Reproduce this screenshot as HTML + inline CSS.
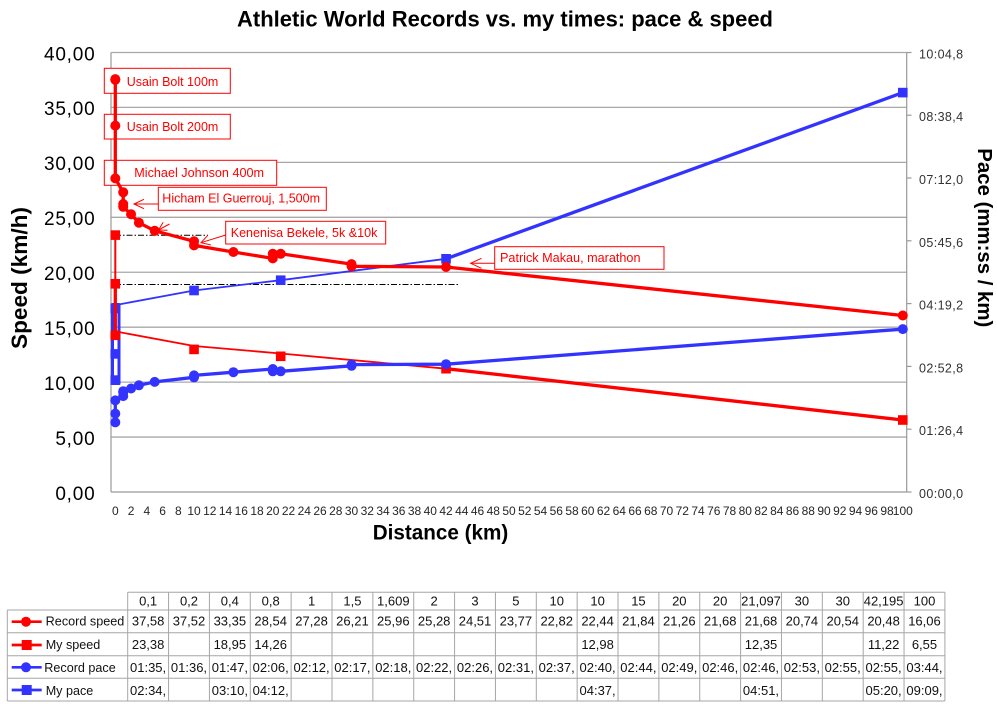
<!DOCTYPE html>
<html><head><meta charset="utf-8"><style>
html,body{margin:0;padding:0;background:#fff;}
svg{display:block;font-family:"Liberation Sans",Arial,sans-serif;}
</style></head><body>
<svg width="997" height="704" viewBox="0 0 997 704" xmlns="http://www.w3.org/2000/svg">
<rect width="997" height="704" fill="#fff"/>
<!-- title -->
<text x="237" y="26.5" font-size="22.5" font-weight="bold" textLength="536" lengthAdjust="spacingAndGlyphs" fill="#000">Athletic World Records vs. my times: pace &amp; speed</text>

<!-- gridlines -->
<g stroke="#a8a8a8" stroke-width="1.3">
<line x1="111" y1="52.5" x2="906.7" y2="52.5"/>
<line x1="111" y1="107.4" x2="906.7" y2="107.4"/>
<line x1="111" y1="162.4" x2="906.7" y2="162.4"/>
<line x1="111" y1="217.3" x2="906.7" y2="217.3"/>
<line x1="111" y1="272.25" x2="906.7" y2="272.25"/>
<line x1="111" y1="327.2" x2="906.7" y2="327.2"/>
<line x1="111" y1="382.1" x2="906.7" y2="382.1"/>
<line x1="111" y1="437.06" x2="906.7" y2="437.06"/>
</g>
<g stroke="#999" stroke-width="1.2">
<line x1="111" y1="492" x2="906.7" y2="492"/>
<line x1="111" y1="52.5" x2="111" y2="492"/>
<line x1="906.7" y1="52.5" x2="906.7" y2="492"/>
<line x1="906.7" y1="52.5" x2="911.5" y2="52.5"/>
<line x1="906.7" y1="115.2" x2="911.5" y2="115.2"/>
<line x1="906.7" y1="178" x2="911.5" y2="178"/>
<line x1="906.7" y1="240.8" x2="911.5" y2="240.8"/>
<line x1="906.7" y1="303.6" x2="911.5" y2="303.6"/>
<line x1="906.7" y1="366.4" x2="911.5" y2="366.4"/>
<line x1="906.7" y1="429.2" x2="911.5" y2="429.2"/>
<line x1="906.7" y1="492" x2="911.5" y2="492"/>
</g>

<!-- left axis labels -->
<g font-size="19" fill="#000" text-anchor="end" letter-spacing="0.8">
<text x="95.5" y="60.3">40,00</text>
<text x="95.5" y="115.2">35,00</text>
<text x="95.5" y="170.2">30,00</text>
<text x="95.5" y="225.1">25,00</text>
<text x="95.5" y="280">20,00</text>
<text x="95.5" y="335">15,00</text>
<text x="95.5" y="389.9">10,00</text>
<text x="95.5" y="444.8">5,00</text>
<text x="95.5" y="499.8">0,00</text>
</g>
<!-- right axis labels -->
<g font-size="12.5" fill="#333" letter-spacing="0.4">
<text x="919" y="58.5">10:04,8</text>
<text x="919" y="121.2">08:38,4</text>
<text x="919" y="184">07:12,0</text>
<text x="919" y="246.8">05:45,6</text>
<text x="919" y="309.6">04:19,2</text>
<text x="919" y="372.4">02:52,8</text>
<text x="919" y="435.2">01:26,4</text>
<text x="919" y="498">00:00,0</text>
</g>

<!-- x tick labels -->
<g font-size="12" fill="#262626" text-anchor="middle">
<text x="115.3" y="515">0</text><text x="131.05" y="515">2</text><text x="146.8" y="515">4</text><text x="162.55" y="515">6</text><text x="178.3" y="515">8</text>
<text x="194.05" y="515">10</text><text x="209.8" y="515">12</text><text x="225.55" y="515">14</text><text x="241.3" y="515">16</text><text x="257.05" y="515">18</text>
<text x="272.8" y="515">20</text><text x="288.55" y="515">22</text><text x="304.3" y="515">24</text><text x="320.05" y="515">26</text><text x="335.8" y="515">28</text>
<text x="351.55" y="515">30</text><text x="367.3" y="515">32</text><text x="383.05" y="515">34</text><text x="398.8" y="515">36</text><text x="414.55" y="515">38</text>
<text x="430.3" y="515">40</text><text x="446.05" y="515">42</text><text x="461.8" y="515">44</text><text x="477.55" y="515">46</text><text x="493.3" y="515">48</text>
<text x="509.05" y="515">50</text><text x="524.8" y="515">52</text><text x="540.55" y="515">54</text><text x="556.3" y="515">56</text><text x="572.05" y="515">58</text>
<text x="587.8" y="515">60</text><text x="603.55" y="515">62</text><text x="619.3" y="515">64</text><text x="635.05" y="515">66</text><text x="650.8" y="515">68</text>
<text x="666.55" y="515">70</text><text x="682.3" y="515">72</text><text x="698.05" y="515">74</text><text x="713.8" y="515">76</text><text x="729.55" y="515">78</text>
<text x="745.3" y="515">80</text><text x="761.05" y="515">82</text><text x="776.8" y="515">84</text><text x="792.55" y="515">86</text><text x="808.3" y="515">88</text>
<text x="824.05" y="515">90</text><text x="839.8" y="515">92</text><text x="855.55" y="515">94</text><text x="871.3" y="515">96</text><text x="887.05" y="515">98</text>
<text x="902.8" y="515">100</text>
</g>

<!-- axis titles -->
<text transform="translate(27,278) rotate(-90)" text-anchor="middle" font-size="22" font-weight="bold" fill="#000" textLength="142" lengthAdjust="spacingAndGlyphs">Speed (km/h)</text>
<text transform="translate(978,237.8) rotate(90)" text-anchor="middle" font-size="20.5" font-weight="bold" fill="#000" textLength="179" lengthAdjust="spacingAndGlyphs">Pace (mm:ss / km)</text>
<text x="372.7" y="539.3" font-size="21" font-weight="bold" fill="#000" textLength="135.6" lengthAdjust="spacingAndGlyphs">Distance (km)</text>

<!-- annotation boxes (under series) -->
<g fill="#fff" stroke="#ff0000" stroke-width="1">
<rect x="104.3" y="68.3" width="126" height="25"/>
<rect x="104.3" y="114.3" width="126" height="24.7"/>
<rect x="104.3" y="160.3" width="172.4" height="25"/>
<rect x="158.3" y="187.3" width="168" height="23"/>
<rect x="225.7" y="221.3" width="160" height="22.7"/>
<rect x="494.7" y="246.7" width="169.3" height="22.6"/>
</g>

<!-- dash-dot lines -->
<g stroke="#000" stroke-width="1" stroke-dasharray="6 2 1.5 2" fill="none">
<line x1="115" y1="235.3" x2="208" y2="235.3"/>
<line x1="115" y1="284.5" x2="458.3" y2="284.5"/>
</g>

<!-- My pace (blue squares) -->
<g stroke="#3333ff" fill="none" stroke-linejoin="round">
<polyline stroke-width="1.8" points="116,305 194.05,290.5 280.7,280.2 446.05,258.8"/>
<line stroke-width="3.3" x1="446.05" y1="258.8" x2="902.8" y2="92.6"/>
<rect stroke-width="3" x="112.5" y="304.5" width="6.5" height="79"/>
</g>
<g fill="#3333ff">
<rect x="110.5" y="375.3" width="9.6" height="9.6"/>
<rect x="110.5" y="349.1" width="9.6" height="9.6"/>
<rect x="110.5" y="303.7" width="9.6" height="9.6"/>
<rect x="189.25" y="285.7" width="9.6" height="9.6"/>
<rect x="275.9" y="275.4" width="9.6" height="9.6"/>
<rect x="441.25" y="254" width="9.6" height="9.6"/>
<rect x="898" y="87.8" width="9.6" height="9.6"/>
</g>

<!-- My speed (red squares) -->
<g stroke="#ff0000" fill="none" stroke-linejoin="round">
<line stroke-width="2" x1="115.3" y1="235.1" x2="115.3" y2="283.8"/>
<line stroke-width="3.3" x1="115.3" y1="283.8" x2="115.3" y2="337"/>
<polyline stroke-width="1.8" points="116,331.5 194.05,346 280.7,353.5 446.05,368.7"/>
<line stroke-width="3.3" x1="446.05" y1="368.7" x2="902.8" y2="420"/>
</g>
<g fill="#ff0000">
<rect x="110.5" y="230.3" width="9.6" height="9.6"/>
<rect x="110.5" y="279" width="9.6" height="9.6"/>
<rect x="110.5" y="330.5" width="9.6" height="9.6"/>
<rect x="189.25" y="344.6" width="9.6" height="9.6"/>
<rect x="275.9" y="351.5" width="9.6" height="9.6"/>
<rect x="441.25" y="363.9" width="9.6" height="9.6"/>
<rect x="898" y="415.2" width="9.6" height="9.6"/>
</g>

<!-- Record pace (blue circles) -->
<polyline fill="none" stroke="#3333ff" stroke-width="3.3" stroke-linejoin="round" points="115.3,422.4 115.3,422.3 115.3,413.6 115.3,400.4 123.2,396.1 123.2,392.2 123.2,391.2 131.05,388.5 138.9,385.3 154.7,381.9 194.05,377.3 194.05,375.4 233.4,372.2 272.8,369 272.8,371.3 280.7,371.3 351.55,365.8 351.55,364.6 446.05,364.2 902.8,329.1"/>
<g fill="#3333ff">
<circle cx="115.3" cy="422.4" r="5"/><circle cx="115.3" cy="413.6" r="5"/><circle cx="115.3" cy="400.4" r="5"/>
<circle cx="123.2" cy="396.1" r="5"/><circle cx="123.2" cy="392.2" r="5"/><circle cx="123.2" cy="391.2" r="5"/>
<circle cx="131.05" cy="388.5" r="5"/><circle cx="138.9" cy="385.3" r="5"/><circle cx="154.7" cy="381.9" r="5"/>
<circle cx="194.05" cy="377.3" r="5"/><circle cx="194.05" cy="375.4" r="5"/><circle cx="233.4" cy="372.2" r="5"/>
<circle cx="272.8" cy="369" r="5"/><circle cx="272.8" cy="371.3" r="5"/><circle cx="280.7" cy="371.3" r="5"/>
<circle cx="351.55" cy="365.8" r="5"/><circle cx="351.55" cy="364.6" r="5"/><circle cx="446.05" cy="364.2" r="5"/>
<circle cx="902.8" cy="329.1" r="5"/>
</g>

<!-- Record speed (red circles) -->
<polyline fill="none" stroke="#ff0000" stroke-width="3.3" stroke-linejoin="round" points="115.3,79.1 115.3,79.8 115.3,125.6 115.3,178.4 123.2,192.3 123.2,204 123.2,206.8 131.05,214.2 138.9,222.7 154.7,230.8 194.05,241.3 194.05,245.4 233.4,252 272.8,258.4 272.8,253.8 280.7,253.8 351.55,264.1 351.55,266.3 446.05,267 902.8,315.5"/>
<g fill="#ff0000">
<circle cx="115.3" cy="79.1" r="5"/><circle cx="115.3" cy="79.8" r="5"/><circle cx="115.3" cy="125.6" r="5"/>
<circle cx="115.3" cy="178.4" r="5"/><circle cx="123.2" cy="192.3" r="5"/><circle cx="123.2" cy="204" r="5"/>
<circle cx="123.2" cy="206.8" r="5"/><circle cx="131.05" cy="214.2" r="5"/><circle cx="138.9" cy="222.7" r="5"/>
<circle cx="154.7" cy="230.8" r="5"/><circle cx="194.05" cy="241.3" r="5"/><circle cx="194.05" cy="245.4" r="5"/>
<circle cx="233.4" cy="252" r="5"/><circle cx="272.8" cy="258.4" r="5"/><circle cx="272.8" cy="253.8" r="5"/>
<circle cx="280.7" cy="253.8" r="5"/><circle cx="351.55" cy="264.1" r="5"/><circle cx="351.55" cy="266.3" r="5"/>
<circle cx="446.05" cy="267" r="5"/><circle cx="902.8" cy="315.5" r="5"/>
</g>

<!-- annotation text & arrows -->
<g font-size="12.6" fill="#ff0000">
<text x="126.7" y="86" textLength="91.6" lengthAdjust="spacingAndGlyphs">Usain Bolt 100m</text>
<text x="126.7" y="131" textLength="91.6" lengthAdjust="spacingAndGlyphs">Usain Bolt 200m</text>
<text x="134.3" y="177" textLength="129.7" lengthAdjust="spacingAndGlyphs">Michael Johnson 400m</text>
<text x="162.3" y="202.6" textLength="157.7" lengthAdjust="spacingAndGlyphs">Hicham El Guerrouj, 1,500m</text>
<text x="230.7" y="237" textLength="146.7" lengthAdjust="spacingAndGlyphs">Kenenisa Bekele, 5k &amp;10k</text>
<text x="500" y="262" textLength="140.5" lengthAdjust="spacingAndGlyphs">Patrick Makau, marathon</text>
</g>
<g stroke="#ff0000" stroke-width="1" fill="none">
<line x1="158.3" y1="204" x2="134" y2="204"/>
<polyline points="144,199.3 134,204 144,208.7"/>
<line x1="225.7" y1="235" x2="201" y2="242.7"/>
<polyline points="210.8,244.9 201,242.7 207.8,235.3"/>
<line x1="169.5" y1="224" x2="158.5" y2="230"/>
<polyline points="167.5,230.2 158.5,230 163.2,222.3"/>
<line x1="494.7" y1="263.3" x2="470.6" y2="263.3"/>
<polyline points="481.5,258.3 470.6,263.3 481.5,268.3"/>
</g>

<!-- data table -->
<g stroke="#a6a6a6" stroke-width="1" fill="none">
<line x1="127.7" y1="592.3" x2="944.9" y2="592.3"/>
<line x1="7.3" y1="610" x2="944.9" y2="610"/>
<line x1="7.3" y1="632.7" x2="944.9" y2="632.7"/>
<line x1="7.3" y1="655.7" x2="944.9" y2="655.7"/>
<line x1="7.3" y1="678.3" x2="944.9" y2="678.3"/>
<line x1="7.3" y1="701" x2="944.9" y2="701"/>
<line x1="7.3" y1="610" x2="7.3" y2="701"/>
<line x1="127.7" y1="592.3" x2="127.7" y2="701"/>
<line x1="168.56" y1="592.3" x2="168.56" y2="701"/>
<line x1="209.42" y1="592.3" x2="209.42" y2="701"/>
<line x1="250.28" y1="592.3" x2="250.28" y2="701"/>
<line x1="291.14" y1="592.3" x2="291.14" y2="701"/>
<line x1="332" y1="592.3" x2="332" y2="701"/>
<line x1="372.86" y1="592.3" x2="372.86" y2="701"/>
<line x1="413.72" y1="592.3" x2="413.72" y2="701"/>
<line x1="454.58" y1="592.3" x2="454.58" y2="701"/>
<line x1="495.44" y1="592.3" x2="495.44" y2="701"/>
<line x1="536.3" y1="592.3" x2="536.3" y2="701"/>
<line x1="577.16" y1="592.3" x2="577.16" y2="701"/>
<line x1="618.02" y1="592.3" x2="618.02" y2="701"/>
<line x1="658.88" y1="592.3" x2="658.88" y2="701"/>
<line x1="699.74" y1="592.3" x2="699.74" y2="701"/>
<line x1="740.6" y1="592.3" x2="740.6" y2="701"/>
<line x1="781.46" y1="592.3" x2="781.46" y2="701"/>
<line x1="822.32" y1="592.3" x2="822.32" y2="701"/>
<line x1="863.18" y1="592.3" x2="863.18" y2="701"/>
<line x1="904.04" y1="592.3" x2="904.04" y2="701"/>
<line x1="944.9" y1="592.3" x2="944.9" y2="701"/>
</g>

<!-- legend keys -->
<g stroke-width="2.7">
<line x1="11.7" y1="621.7" x2="41.7" y2="621.7" stroke="#ff0000"/>
<line x1="11.7" y1="645" x2="41.7" y2="645" stroke="#ff0000"/>
<line x1="11.7" y1="667.3" x2="41.7" y2="667.3" stroke="#3333ff"/>
<line x1="11.7" y1="690" x2="41.7" y2="690" stroke="#3333ff"/>
</g>
<circle cx="26" cy="621.7" r="5" fill="#ff0000"/>
<rect x="21.7" y="640" width="10" height="10" fill="#ff0000"/>
<circle cx="26" cy="667.3" r="5" fill="#3333ff"/>
<rect x="21.7" y="685" width="10" height="10" fill="#3333ff"/>
<g font-size="12.6" fill="#111">
<text x="45.7" y="625.5" textLength="78.6" lengthAdjust="spacingAndGlyphs">Record speed</text>
<text x="45.7" y="649">My speed</text>
<text x="44.3" y="672">Record pace</text>
<text x="45.7" y="695">My pace</text>
</g>

<!-- header row -->
<g font-size="13" fill="#111" text-anchor="middle">
<text x="148.13" y="605.5">0,1</text><text x="188.99" y="605.5">0,2</text><text x="229.85" y="605.5">0,4</text><text x="270.71" y="605.5">0,8</text>
<text x="311.57" y="605.5">1</text><text x="352.43" y="605.5">1,5</text><text x="393.29" y="605.5">1,609</text><text x="434.15" y="605.5">2</text>
<text x="475.01" y="605.5">3</text><text x="515.87" y="605.5">5</text><text x="556.73" y="605.5">10</text><text x="597.59" y="605.5">10</text>
<text x="638.45" y="605.5">15</text><text x="679.31" y="605.5">20</text><text x="720.17" y="605.5">20</text><text x="761.03" y="605.5">21,097</text>
<text x="801.89" y="605.5">30</text><text x="842.75" y="605.5">30</text><text x="883.61" y="605.5">42,195</text><text x="924.47" y="605.5">100</text>
</g>
<!-- record speed row -->
<g font-size="13" fill="#111" text-anchor="middle">
<text x="148.13" y="625.7">37,58</text><text x="188.99" y="625.7">37,52</text><text x="229.85" y="625.7">33,35</text><text x="270.71" y="625.7">28,54</text>
<text x="311.57" y="625.7">27,28</text><text x="352.43" y="625.7">26,21</text><text x="393.29" y="625.7">25,96</text><text x="434.15" y="625.7">25,28</text>
<text x="475.01" y="625.7">24,51</text><text x="515.87" y="625.7">23,77</text><text x="556.73" y="625.7">22,82</text><text x="597.59" y="625.7">22,44</text>
<text x="638.45" y="625.7">21,84</text><text x="679.31" y="625.7">21,26</text><text x="720.17" y="625.7">21,68</text><text x="761.03" y="625.7">21,68</text>
<text x="801.89" y="625.7">20,74</text><text x="842.75" y="625.7">20,54</text><text x="883.61" y="625.7">20,48</text><text x="924.47" y="625.7">16,06</text>
</g>
<!-- my speed row -->
<g font-size="13" fill="#111" text-anchor="middle">
<text x="148.13" y="649">23,38</text><text x="229.85" y="649">18,95</text><text x="270.71" y="649">14,26</text>
<text x="597.59" y="649">12,98</text><text x="761.03" y="649">12,35</text><text x="883.61" y="649">11,22</text><text x="924.47" y="649">6,55</text>
</g>
<!-- record pace row -->
<g font-size="13" fill="#111">
<text x="130" y="672">01:35,</text><text x="170.9" y="672">01:36,</text><text x="211.8" y="672">01:47,</text><text x="252.6" y="672">02:06,</text>
<text x="293.5" y="672">02:12,</text><text x="334.3" y="672">02:17,</text><text x="375.2" y="672">02:18,</text><text x="416" y="672">02:22,</text>
<text x="456.9" y="672">02:26,</text><text x="497.8" y="672">02:31,</text><text x="538.6" y="672">02:37,</text><text x="579.5" y="672">02:40,</text>
<text x="620.3" y="672">02:44,</text><text x="661.2" y="672">02:49,</text><text x="702.1" y="672">02:46,</text><text x="742.9" y="672">02:46,</text>
<text x="783.8" y="672">02:53,</text><text x="824.6" y="672">02:55,</text><text x="865.5" y="672">02:55,</text><text x="906.4" y="672">03:44,</text>
</g>
<!-- my pace row -->
<g font-size="13" fill="#111">
<text x="130" y="695">02:34,</text><text x="211.8" y="695">03:10,</text><text x="252.6" y="695">04:12,</text>
<text x="579.5" y="695">04:37,</text><text x="742.9" y="695">04:51,</text><text x="865.5" y="695">05:20,</text><text x="906.4" y="695">09:09,</text>
</g>
</svg>
</body></html>
